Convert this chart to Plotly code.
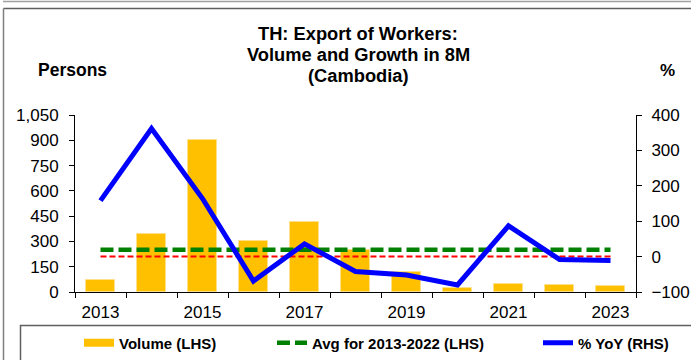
import plotly.graph_objects as go

# Export of Thai workers to Cambodia, Jan-Aug of each year
years = [2013, 2014, 2015, 2016, 2017, 2018, 2019, 2020, 2021, 2022, 2023]
volume = [72, 344, 900, 301, 415, 250, 120, 22, 46, 41, 35]          # persons (LHS)
yoy_pct = [158, 362, 164, -69, 36, -42, -52, -80, 87, -8, -11]      # % YoY (RHS)
avg_years = [2013, 2022]
left_ticks = [0, 150, 300, 450, 600, 750, 900, 1050]
right_ticks = [-100, 0, 100, 200, 300, 400]
year_labels = [2013, 2015, 2017, 2019, 2021, 2023]

avg_vals = [v for y, v in zip(years, volume) if avg_years[0] <= y <= avg_years[1]]
avg_volume = sum(avg_vals) / len(avg_vals)

W, H = 691, 360
ML, MR, MT, MB = 75, 55, 115, 68
PW, PH = W - ML - MR, H - MT - MB


def px(x):
    return (x - ML) / PW


def py(y):
    return (H - MB - y) / PH


FONT = "Liberation Sans, Arial, sans-serif"

fig = go.Figure()

fig.add_trace(go.Bar(
    x=years, y=volume, width=0.58, yaxis="y",
    marker=dict(color="#FFC000", line=dict(color="#FFE08A", width=1)),
    showlegend=False, legendgroup="vol",
))
# legend entry for the bars (wide flat swatch)
fig.add_trace(go.Scatter(
    x=[None], y=[None], mode="lines", name="Volume (LHS)",
    line=dict(color="#FFC000", width=8), legendgroup="vol", legend="legend",
))
fig.add_trace(go.Scatter(
    x=years, y=[avg_volume] * len(years), mode="lines", yaxis="y",
    name="Avg for 2013-2022 (LHS)",
    line=dict(color="#008000", width=4.5, dash="13px,5px"), legend="legend2",
))
fig.add_trace(go.Scatter(
    x=years, y=[0] * len(years), mode="lines", yaxis="y2",
    line=dict(color="#FF0000", width=2, dash="6px,3px"), showlegend=False,
))
fig.add_trace(go.Scatter(
    x=years, y=yoy_pct, mode="lines", yaxis="y2", name="% YoY (RHS)",
    line=dict(color="#0000FF", width=5), legend="legend3",
))

axis_common = dict(
    showgrid=False, zeroline=False, showline=True, linecolor="black", linewidth=1,
    ticks="outside", ticklen=5, tickcolor="black",
    tickfont=dict(family=FONT, size=17, color="black"),
)

fig.update_layout(
    width=W, height=H,
    margin=dict(l=ML, r=MR, t=MT, b=MB, autoexpand=False),
    paper_bgcolor="white", plot_bgcolor="white",
    font=dict(family=FONT, color="black"),
    xaxis=dict(
        range=[2012.5, 2023.5], tickvals=year_labels, ticktext=[str(y) for y in year_labels],
        ticks="outside", ticklen=0, showgrid=False, zeroline=False, showline=True,
        linecolor="black", linewidth=1, tickfont=dict(family=FONT, size=17, color="black"),
        minor=dict(tickvals=[y - 0.5 for y in years] + [years[-1] + 0.5],
                   ticks="outside", ticklen=5, tickcolor="black", showgrid=False),
        ticklabelstandoff=5,
    ),
    yaxis=dict(range=[0, 1050], tickvals=left_ticks, tickformat=",",
               ticklabelstandoff=7, **axis_common),
    yaxis2=dict(range=[-100, 400], tickvals=right_ticks, overlaying="y", side="right",
                ticklabelstandoff=6, **axis_common),
    bargap=0,
)

legend_common = dict(
    orientation="h", yref="paper", y=py(343), yanchor="middle", xanchor="left",
    bgcolor="rgba(0,0,0,0)", borderwidth=0,
    font=dict(family=FONT, size=15, color="black", weight="bold"),
)
fig.update_layout(
    legend=dict(x=px(79), **legend_common),
    legend2=dict(x=px(272), **legend_common),
    legend3=dict(x=px(538), **legend_common),
)

# title lines
title_lines = ["TH: Export of Workers:", "Volume and Growth in 8M", "(Cambodia)"]
for txt, yc in zip(title_lines, [33, 54.5, 76]):
    fig.add_annotation(text=txt, x=px(358), y=py(yc), xref="paper", yref="paper",
                       xanchor="center", yanchor="middle", showarrow=False,
                       font=dict(family=FONT, size=18.3, color="black", weight="bold"))
fig.add_annotation(text="Persons", x=px(72), y=py(70), xref="paper", yref="paper",
                   xanchor="center", yanchor="middle", showarrow=False,
                   font=dict(family=FONT, size=17.5, color="black", weight="bold"))
fig.add_annotation(text="%", x=px(667), y=py(70), xref="paper", yref="paper",
                   xanchor="center", yanchor="middle", showarrow=False,
                   font=dict(family=FONT, size=17, color="black", weight="bold"))

# chart frame and legend box
frame = dict(color="#7F7F7F", width=1.5)
fig.add_shape(type="line", xref="paper", yref="paper", x0=px(3), x1=px(W + 5),
              y0=py(1.5), y1=py(1.5), line=dict(color="#A0A0A0", width=1.5))
fig.add_shape(type="line", xref="paper", yref="paper", x0=px(3.5), x1=px(W + 5),
              y0=py(8.5), y1=py(8.5), line=dict(color="#5F5F5F", width=1.5))
fig.add_shape(type="line", xref="paper", yref="paper", x0=px(3.5), x1=px(3.5),
              y0=py(8.5), y1=py(H + 5), line=frame)
fig.add_shape(type="rect", xref="paper", yref="paper", x0=px(20.5), x1=px(W + 10),
              y0=py(325.5), y1=py(H + 10), line=dict(color="#5F5F5F", width=1.5))

fig.write_html("out.html")
